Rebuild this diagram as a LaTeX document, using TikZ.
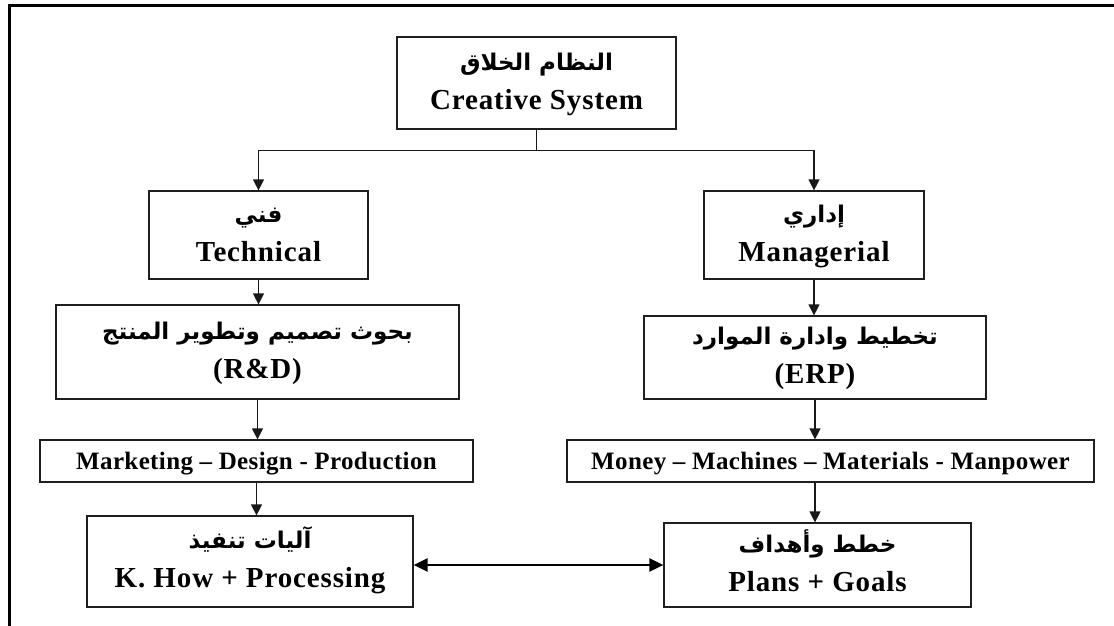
\documentclass[tikz,border=0pt]{standalone}
\usepackage{fontspec}
\setmainfont{Liberation Serif}
\newfontfamily\enf{Liberation Serif}[LetterSpace=3]
\newfontfamily\enfs{Liberation Serif}[LetterSpace=1.5]
\newfontfamily\arf[Script=Arabic]{DejaVu Sans}
\TeXXeTstate=1
\usetikzlibrary{arrows.meta}
\newcommand{\lnstrut}{\rule[-13pt]{0pt}{39pt}}
\newcommand{\AR}[1]{{\arf\bfseries\fontsize{23}{39}\selectfont\beginR #1\endR}\lnstrut}
\newcommand{\EN}[1]{{\enf\bfseries #1}\lnstrut}
\newcommand{\ENr}[1]{{\enf #1}\lnstrut}
\begin{document}
\begin{tikzpicture}[x=1pt,y=-1pt,
  box/.style={draw=black!88, line width=1.2pt, inner sep=0pt, align=center,
    font=\enf\bfseries\fontsize{29}{39}\selectfont},
  thinbox/.style={draw=black!88, line width=1.2pt, inner sep=0pt,
    font=\enfs\bfseries\fontsize{25}{30}\selectfont, text height=16.5pt, text depth=0pt},
  arr/.style={-{Triangle[length=11pt,width=11pt]}, line width=1.2pt, draw=black!90},
  darr/.style={{Triangle[length=14pt,width=13pt]}-{Triangle[length=14pt,width=13pt]}, line width=2.4pt},
  frame/.style={line width=3.4pt, line join=miter}
]
\useasboundingbox (0,0) rectangle (1114,626);
\fill[white] (0,0) rectangle (1114,626);
\draw[frame] (9.2,626) -- (9.2,5.5) -- (1114,5.5);

\node[box, minimum width=279pt, minimum height=92pt] (top) at (536.5,83)
  {\AR{النظام الخلاق}\\\EN{Creative System}};
\node[box, minimum width=219pt, minimum height=88pt] (tech) at (258.5,235)
  {\AR{فني}\\\EN{Technical}};
\node[box, minimum width=220pt, minimum height=88pt] (mgr) at (814,235)
  {\AR{إداري}\\\EN{Managerial}};
\node[box, minimum width=403pt, minimum height=94pt] (rd) at (257.5,352)
  {\AR{بحوث تصميم وتطوير المنتج}\\\EN{(R\&D)}};
\node[box, minimum width=342pt, minimum height=83pt] (erp) at (815,357.5)
  {\AR{تخطيط  وادارة الموارد}\\\EN{(ERP)}};
\node[thinbox, minimum width=433pt, minimum height=42pt] (mkt) at (256.5,461)
  {Marketing – Design - Production};
\node[thinbox, minimum width=527pt, minimum height=42pt] (money) at (830.5,461)
  {Money – Machines – Materials - Manpower};
\node[box, minimum width=326pt, minimum height=91pt] (know) at (250,561.5)
  {\AR{آليات تنفيذ}\\\EN{K. How + Processing}};
\node[box, minimum width=307pt, minimum height=84pt] (plans) at (817.5,565)
  {\AR{خطط وأهداف}\\\ENr{Plans + Goals}};

\draw[arr] (top.south) -- ++(0,21) -| (tech.north);
\draw[arr] (top.south) -- ++(0,21) -| (mgr.north);
\draw[arr] (tech.south) -- (tech.south |- rd.north);
\draw[arr] (mgr.south) -- (mgr.south |- erp.north);
\draw[arr] (rd.south) -- (rd.south |- mkt.north);
\draw[arr] (erp.south) -- (erp.south |- money.north);
\draw[arr] (mkt.south) -- (mkt.south |- know.north);
\draw[arr] (money.south -| erp.south) -- (erp.south |- plans.north);
\draw[darr] (know.east |- plans.west) -- (plans.west);
\end{tikzpicture}
\end{document}
